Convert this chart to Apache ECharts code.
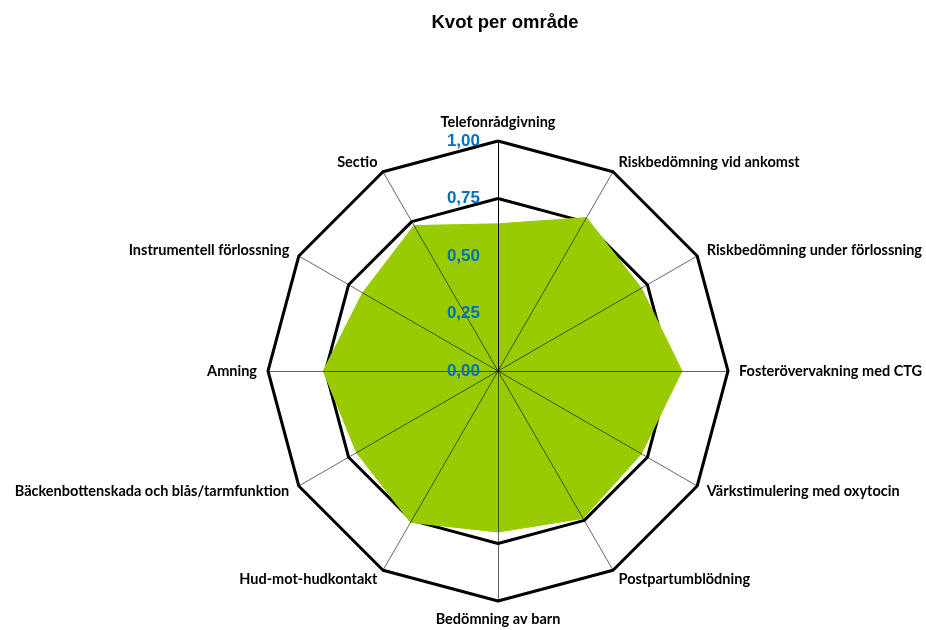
<!DOCTYPE html>
<html>
<head>
<meta charset="utf-8">
<script src="https://cdn.jsdelivr.net/npm/echarts@6/dist/echarts.min.js"></script>
<style>html,body{margin:0;padding:0;background:#fff}#c{width:926px;height:630px}</style>
</head>
<body>
<div id="c"></div>
<script>
// Categories in clockwise order starting at the top
const categories = ['Telefonrådgivning','Riskbedömning vid ankomst','Riskbedömning under förlossning','Fosterövervakning med CTG','Värkstimulering med oxytocin','Postpartumblödning','Bedömning av barn','Hud-mot-hudkontakt','Bäckenbottenskada och blås/tarmfunktion','Amning','Instrumentell förlossning','Sectio'];
const kvot = [0.64,0.77,0.72,0.80,0.72,0.74,0.70,0.76,0.71,0.76,0.68,0.73];
const malniva = [0.75,0.75,0.75,0.75,0.75,0.75,0.75,0.75,0.75,0.75,0.75,0.75];
const maxniva = [1,1,1,1,1,1,1,1,1,1,1,1];
const tickLabels = ['0,00','0,25','0,50','0,75','1,00'];

// ECharts places radar indicators counter-clockwise; reorder to get clockwise layout
const ccw = a => [a[0], ...a.slice(1).reverse()];

const chart = echarts.init(document.getElementById('c'));
const indicators = ccw(categories).map(n => ({name: n, min: 0, max: 1}));
const cx = 498, cy = 371, R = 230;

chart.setOption({
  backgroundColor: '#ffffff',
  animation: false,
  title: {
    text: 'Kvot per område', left: 500, textAlign: 'center', top: 8,
    textStyle: {fontFamily: 'Liberation Sans', fontWeight: 'bold', fontSize: 18.5, color: '#000'}
  },
  radar: [{
    center: [cx, cy], radius: R, startAngle: 90, shape: 'polygon', splitNumber: 4,
    indicator: indicators,
    nameGap: 11,
    axisName: {color: '#000', fontFamily: 'Lato', fontWeight: 'bold', fontSize: 14.5},
    splitLine: {show: false}, splitArea: {show: false},
    axisLine: {show: false}, axisTick: {show: false}, axisLabel: {show: false}
  }, {
    center: [cx, cy], radius: R, startAngle: 90, shape: 'polygon', splitNumber: 4,
    indicator: indicators.map(d => ({name: '', min: 0, max: 1})),
    z: 10,
    axisName: {show: false},
    splitLine: {show: false}, splitArea: {show: false},
    axisLine: {show: true, lineStyle: {color: 'rgba(0,0,0,0.6)', width: 1}},
    axisTick: {show: false}, axisLabel: {show: false}
  }],
  grid: {left: cx, top: cy - R, width: 1, height: R, containLabel: false, z: 20},
  xAxis: {type: 'value', show: false, min: 0, max: 1},
  yAxis: {
    type: 'value', min: 0, max: 1, interval: 0.25, z: 20,
    axisLine: {show: true, lineStyle: {color: '#000', width: 1}},
    axisTick: {show: false}, splitLine: {show: false},
    axisLabel: {
      color: '#0070C0', fontFamily: 'Liberation Sans', fontWeight: 'bold', fontSize: 17, margin: 18,
      formatter: v => tickLabels[Math.round(v / 0.25)]
    }
  },
  series: [{
    type: 'radar', radarIndex: 0, z: 2, symbol: 'none',
    data: [{value: ccw(maxniva), name: 'Max'}],
    lineStyle: {color: '#000', width: 3}
  }, {
    type: 'radar', radarIndex: 0, z: 3, symbol: 'none',
    data: [{value: ccw(malniva), name: 'Målnivå'}],
    lineStyle: {color: '#000', width: 3}
  }, {
    type: 'radar', radarIndex: 0, z: 4, symbol: 'none',
    data: [{value: ccw(kvot), name: 'Kvot'}],
    lineStyle: {color: '#99CC00', width: 1}, areaStyle: {color: '#99CC00', opacity: 1}
  }]
});
</script>
</body>
</html>
